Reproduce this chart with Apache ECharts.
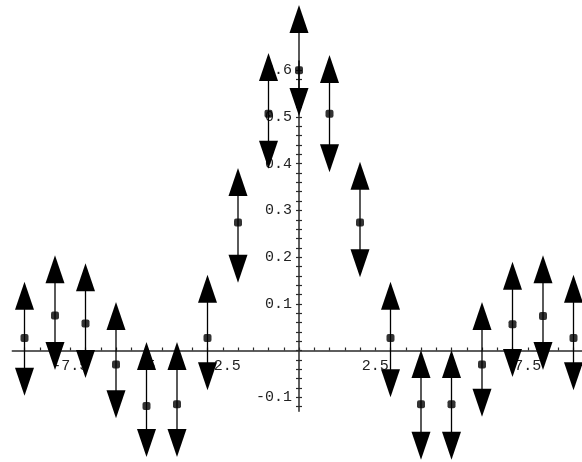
<!DOCTYPE html>
<html>
<head>
<meta charset="utf-8">
<script src="https://cdn.jsdelivr.net/npm/echarts@6/dist/echarts.min.js"></script>
<style>
  html, body { margin: 0; padding: 0; background: #fff; }
  #chart { width: 582px; height: 462px; }
</style>
</head>
<body>
<div id="chart"></div>
<script>
// Sample positions and measured values with their error bounds
const xValues = [-9, -8, -7, -6, -5, -4, -3, -2, -1, 0, 1, 2, 3, 4, 5, 6, 7, 8, 9];
const yValues = [0.027, 0.075, 0.058, -0.03, -0.119, -0.115, 0.027, 0.274, 0.507, 0.6,
                 0.507, 0.274, 0.027, -0.115, -0.115, -0.03, 0.056, 0.074, 0.027];
const upperBounds = [0.147, 0.204, 0.187, 0.104, 0.018, 0.018, 0.162, 0.391, 0.637, 0.74,
                     0.633, 0.404, 0.147, 0.001, 0.001, 0.104, 0.19, 0.204, 0.162];
const lowerBounds = [-0.097, -0.042, -0.059, -0.145, -0.228, -0.228, -0.085, 0.145, 0.389, 0.502,
                     0.382, 0.157, -0.1, -0.234, -0.234, -0.142, -0.057, -0.042, -0.085];

// Axis tick labels
const xTickLabels = [-7.5, -5, -2.5, 2.5, 5, 7.5];
const yTickLabels = [-0.1, 0.1, 0.2, 0.3, 0.4, 0.5, 0.6];

// Axis extents
const xRange = [-9.4, 9.4];
const yRange = [-0.13, 0.62];

// tick marks: every 0.5 on x, every 0.02 on y
const xTicks = [];
for (let i = -18; i <= 18; i++) xTicks.push(i / 2);
const yTicks = [];
for (let i = -6; i <= 30; i++) yTicks.push(+(i * 0.02).toFixed(2));

const labelFont = { fontFamily: 'Liberation Mono', fontSize: 15, color: '#222' };
const axisColor = '#2a2a2a';

const pointData = xValues.map((x, i) => [x, yValues[i]]);
const barData = xValues.map((x, i) => [x, lowerBounds[i], upperBounds[i]]);

const HEAD_W = 19, HEAD_H = 28;
const GRID = { left: 12.3, right: -3.7, top: 61, bottom: 50.8 };

// error bar drawn as a double-headed arrow from lower to upper bound
function renderArrowBar(params, api) {
  const x = api.value(0);
  const lo = api.coord([x, api.value(1)]);
  const hi = api.coord([x, api.value(2)]);
  return {
    type: 'group',
    children: [
      {
        type: 'line',
        shape: { x1: hi[0], y1: hi[1] + HEAD_H - 2, x2: lo[0], y2: lo[1] - HEAD_H + 2 },
        style: { stroke: '#000', lineWidth: 1.3 }
      },
      {
        type: 'polygon',
        shape: { points: [[hi[0], hi[1]], [hi[0] - HEAD_W / 2, hi[1] + HEAD_H], [hi[0] + HEAD_W / 2, hi[1] + HEAD_H]] },
        style: { fill: '#000' }
      },
      {
        type: 'polygon',
        shape: { points: [[lo[0], lo[1]], [lo[0] - HEAD_W / 2, lo[1] - HEAD_H], [lo[0] + HEAD_W / 2, lo[1] - HEAD_H]] },
        style: { fill: '#000' }
      }
    ]
  };
}

function yAxisDef(ticksInside, withLabels) {
  return {
    type: 'value',
    position: 'left',
    min: yRange[0], max: yRange[1],
    offset: 0,
    axisLine: { show: withLabels, onZero: false, lineStyle: { color: axisColor, width: 1.5 } },
    axisTick: { show: true, inside: ticksInside, length: 3, customValues: yTicks, lineStyle: { color: axisColor, width: 1.2 } },
    axisLabel: {
      show: withLabels, margin: 7, customValues: yTickLabels,
      formatter: v => v.toFixed(1),
      ...labelFont
    },
    splitLine: { show: false }
  };
}

const chart = echarts.init(document.getElementById('chart'), null, { renderer: 'canvas' });

chart.setOption({
  animation: false,
  backgroundColor: '#fff',
  grid: {
    left: GRID.left, right: GRID.right, top: GRID.top, bottom: GRID.bottom,
    containLabel: false,
    outerBoundsMode: 'none'
  },
  xAxis: [{
    type: 'value',
    position: 'bottom',
    min: xRange[0], max: xRange[1],
    offset: 0,
    axisLine: { show: true, onZero: false, lineStyle: { color: axisColor, width: 1.5 } },
    axisTick: { show: true, inside: true, length: 3, customValues: xTicks, lineStyle: { color: axisColor, width: 1.2 } },
    axisLabel: {
      show: true, margin: 8, customValues: xTickLabels,
      formatter: v => String(v),
      ...labelFont
    },
    splitLine: { show: false }
  }],
  yAxis: [yAxisDef(false, true), yAxisDef(true, false)],
  series: [
    {
      type: 'custom',
      clip: false,
      renderItem: renderArrowBar,
      data: barData,
      z: 3
    },
    {
      type: 'scatter',
      clip: false,
      data: pointData,
      symbol: 'roundRect',
      symbolSize: 8,
      itemStyle: { color: '#000' },
      z: 4
    }
  ]
});

// move both axes so they cross at the origin (labels travel with them)
const x0 = chart.convertToPixel({ xAxisIndex: 0 }, 0);
const y0 = chart.convertToPixel({ yAxisIndex: 0 }, 0);
const gridBottomY = chart.getHeight() - GRID.bottom;
chart.setOption({
  xAxis: [{ offset: -(gridBottomY - y0) }],
  yAxis: [{ offset: -(x0 - GRID.left) }, { offset: -(x0 - GRID.left) }]
});
</script>
</body>
</html>
